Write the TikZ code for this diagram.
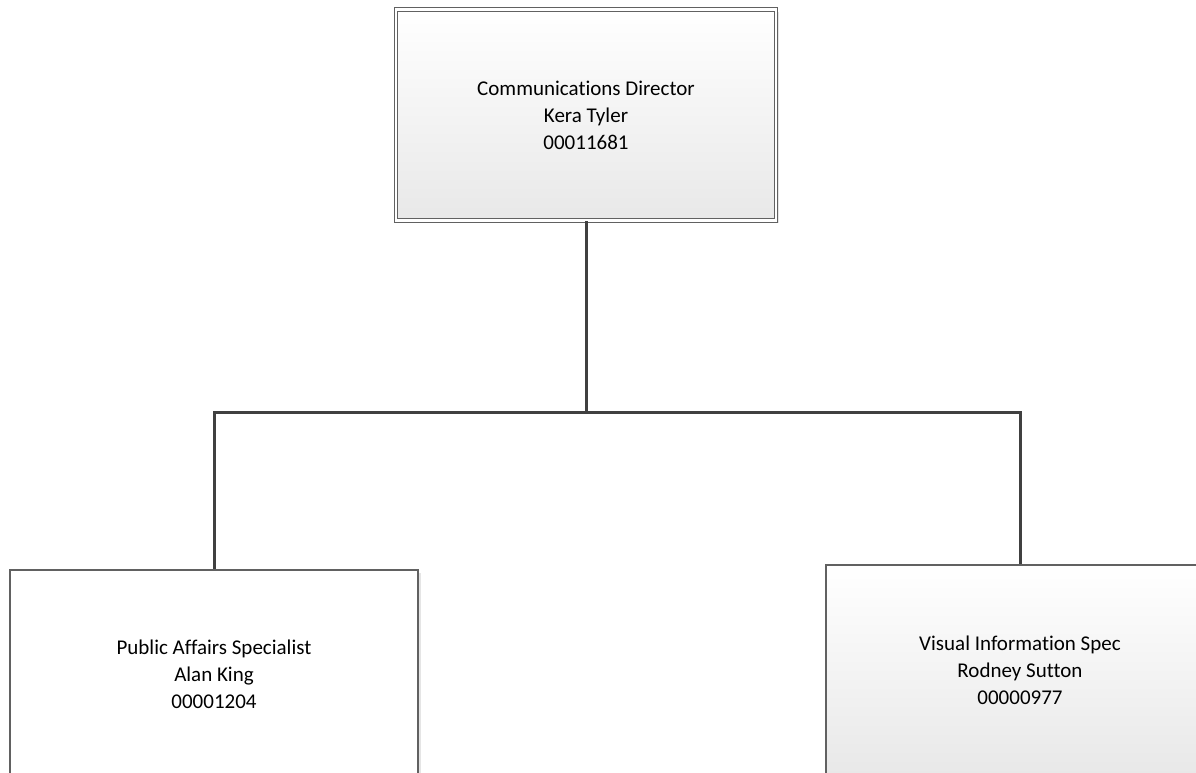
\documentclass[tikz,border=0pt]{standalone}
\usepackage{fontspec}
\setmainfont[Ligatures=NoCommon]{Carlito}
\usetikzlibrary{shadows}

\begin{document}
\begin{tikzpicture}[x=1pt,y=-1pt,
  posbox/.style={draw=black!62,line width=1.1pt,align=center,inner sep=0pt,
    font=\fontsize{21}{27}\selectfont,
    drop shadow={shadow xshift=2.5pt,shadow yshift=-2.5pt,opacity=0.25,fill=black!40}},
  orgline/.style={draw=black!75,line width=3pt}]
  \clip (0,0) rectangle (1196,773);
  \fill[white] (0,0) rectangle (1196,773);
  % boxes
  \node[posbox,double,double distance=2.4pt,top color=white,bottom color=black!9,
    minimum width=380pt,minimum height=211pt] (dir) at (586,115)
    {Communications Director\\Kera Tyler\\00011681};
  \node[posbox,fill=white,minimum width=408pt,minimum height=208pt] (pas) at (214,674)
    {Public Affairs Specialist\\Alan King\\00001204};
  \node[posbox,top color=white,bottom color=black!9,minimum width=388pt,minimum height=210pt] (vis) at (1020,670)
    {Visual Information Spec\\Rodney Sutton\\00000977};
  % connectors
  \coordinate (split) at (586,412);
  \draw[orgline] (dir.south) -- (split);
  \draw[orgline] (split) -| (pas.north);
  \draw[orgline] (split) -| (vis.north);
\end{tikzpicture}
\end{document}
